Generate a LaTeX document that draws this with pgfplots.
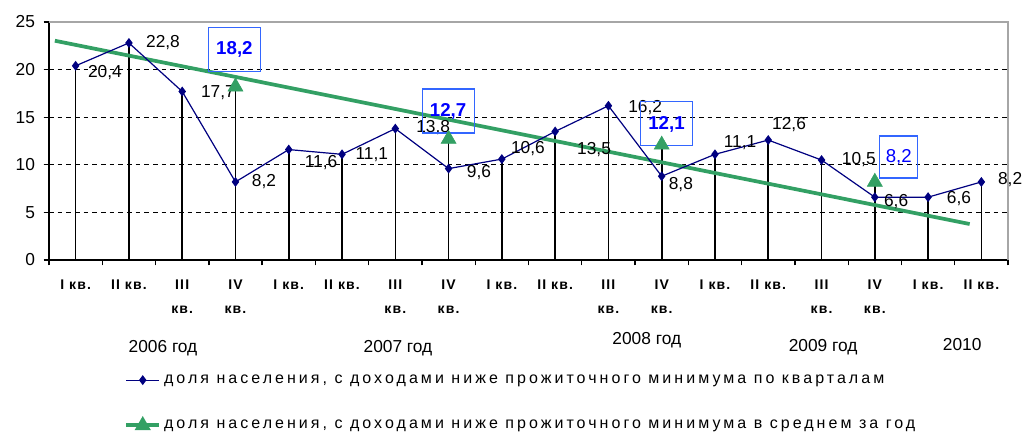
\documentclass[border=0pt]{standalone}
\usepackage{fontspec}
\setmainfont{Liberation Sans}
\newfontfamily\legfont[LetterSpace=19]{Liberation Sans}
\newfontfamily\qfont[LetterSpace=8]{Liberation Sans}
\usepackage{pgfplots}
\pgfplotsset{compat=1.18}
\definecolor{navyb}{RGB}{0,0,128}
\definecolor{seag}{RGB}{51,160,100}
\definecolor{boxb}{RGB}{51,102,255}
\definecolor{txtb}{RGB}{0,0,255}
\pgfplotstableread{
x y
0 20.4
1 22.8
2 17.7
3 8.2
4 11.6
5 11.1
6 13.8
7 9.6
8 10.6
9 13.5
10 16.2
11 8.8
12 11.1
13 12.6
14 10.5
15 6.6
16 6.6
17 8.2
}\quarters
\pgfplotstableread{
x y
3 18.2
7 12.7
11 12.1
15 8.2
}\annual
\begin{document}
\begin{tikzpicture}
\path[use as bounding box] (-36.75pt,-129pt) rectangle (731.25pt,195pt);
\begin{axis}[
 at={(0,0)}, anchor=south west,
 scale only axis, width=719.25pt, height=178.5pt,
 xmin=-0.5, xmax=17.5, ymin=0, ymax=25,
 clip=false,
 axis x line*=bottom, axis y line*=left,
 axis line style={black, line width=1pt},
 ytick={0,5,...,25},
 tick align=outside,
 major tick length=4pt,
 minor tick length=4pt,
 tick style={black, line width=1pt},
 y tick label style={font=\fontsize{13}{15}\selectfont, xshift=-3pt},
 /pgf/number format/assume math mode=true,
 xtick={0,...,17},
 xticklabels={{I кв.},{II кв.},{III\\кв.},{IV\\кв.},{I кв.},{II кв.},{III\\кв.},{IV\\кв.},{I кв.},{II кв.},{III\\кв.},{IV\\кв.},{I кв.},{II кв.},{III\\кв.},{IV\\кв.},{I кв.},{II кв.}},
 major x tick style={draw=none},
 minor xtick={-0.5,0.5,...,17.5},
 minor x tick style={black, line width=1pt},
 x tick label style={font=\qfont\bfseries\fontsize{10.5}{18}\selectfont, align=center, anchor=north, yshift=-7pt},
 extra y ticks={5,10,15,20},
 extra y tick labels={},
 extra y tick style={grid=major},
 major grid style={black, line width=0.9pt, dash pattern=on 3.5pt off 3pt},
 legend style={draw=none, fill=none, at={(rel axis cs:0.078,-0.47)}, anchor=north west,
   font=\legfont\fontsize{12}{14}\selectfont, cells={anchor=west}, row sep=22pt, inner sep=0pt},
 legend image code/.code={\draw[mark repeat=2, mark phase=2, #1] plot coordinates {(0pt,0pt) (12.5pt,0pt) (25pt,0pt)};},
]
\draw[gray!70, line width=0.8pt] (rel axis cs:0,1) -- (rel axis cs:1,1) -- (rel axis cs:1,0);
\addplot[ycomb, black, line width=1.2pt, forget plot] table {\quarters};
\addplot[ycomb, black, line width=1.2pt, forget plot] table {\annual};
\addplot[seag, line width=2.8pt, forget plot] coordinates {(-0.39,23.03) (16.78,3.78)};
\addplot[navyb, line width=0.9pt, mark=diamond*, mark size=3pt, mark options={solid, fill=navyb}] table {\quarters};
\addlegendentry{доля населения, с доходами ниже прожиточного минимума по кварталам}
\addplot[seag, only marks, mark=triangle*, mark size=6.5pt, forget plot] table {\annual};
\addlegendimage{seag, line width=3pt, mark=triangle*, mark size=4pt}
\addlegendentry{доля населения, с доходами ниже прожиточного минимума в среднем за год}
\begin{scope}[every node/.style={font=\fontsize{13}{15}\selectfont, inner sep=0pt}]
\node at (axis cs:0.55,19.64) {20,4};
\node at (axis cs:1.64,22.79) {22,8};
\node at (axis cs:2.67,17.54) {17,7};
\node at (axis cs:3.535,8.19) {8,2};
\node at (axis cs:4.605,10.19) {11,6};
\node at (axis cs:5.56,11.03) {11,1};
\node at (axis cs:6.71,13.87) {13,8};
\node at (axis cs:7.57,9.14) {9,6};
\node at (axis cs:8.49,11.66) {10,6};
\node at (axis cs:9.73,11.55) {13,5};
\node at (axis cs:10.69,15.97) {16,2};
\node at (axis cs:11.36,7.88) {8,8};
\node at (axis cs:12.47,12.29) {11,1};
\node at (axis cs:13.39,14.18) {12,6};
\node at (axis cs:14.7,10.5) {10,5};
\node at (axis cs:15.4,6.09) {6,6};
\node at (axis cs:16.58,6.41) {6,6};
\node at (axis cs:17.54,8.40) {8,2};
\node at (axis cs:1.64,-9.24) {2006 год};
\node at (axis cs:6.05,-9.24) {2007 год};
\node at (axis cs:10.72,-8.4) {2008 год};
\node at (axis cs:14.03,-9.14) {2009 год};
\node at (axis cs:16.64,-8.93) {2010};
\end{scope}
\begin{scope}[every node/.style={draw=boxb, line width=0.8pt, text=txtb, inner sep=2pt, font=\bfseries\fontsize{14}{16}\selectfont}]
\node[minimum width=39pt, minimum height=33pt] at (axis cs:2.98,22.1) {18,2};
\node[minimum width=39pt, minimum height=33pt] at (axis cs:6.99,15.65) {12,7};
\node[minimum width=39pt, minimum height=33pt] at (axis cs:11.09,14.29) {12,1};
\node[minimum width=28.5pt, minimum height=31.5pt, font=\fontsize{14}{16}\selectfont] at (axis cs:15.45,10.82) {8,2};
\end{scope}
\end{axis}
\end{tikzpicture}
\end{document}
